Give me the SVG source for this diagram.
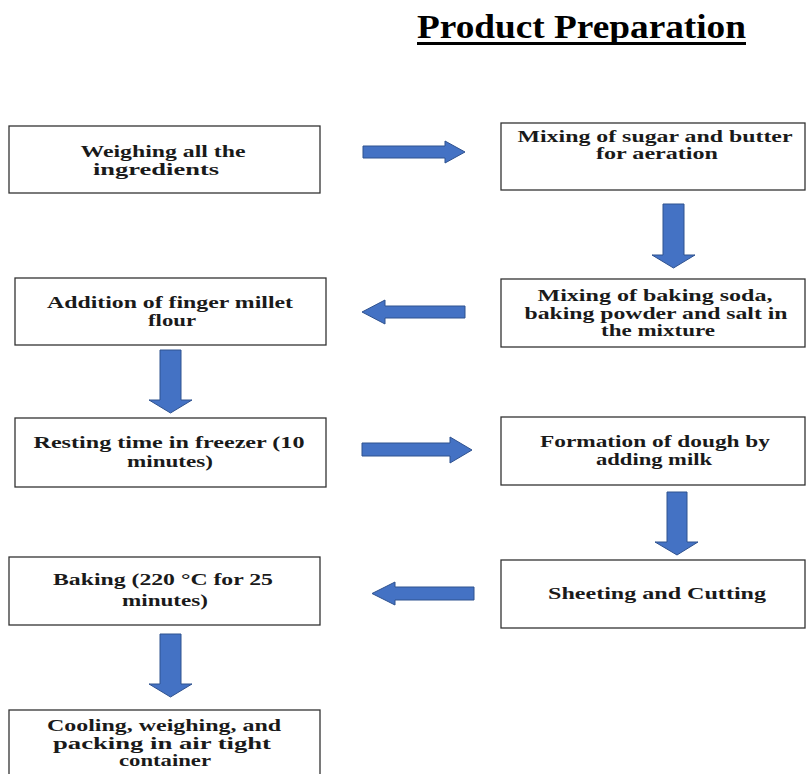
<svg xmlns="http://www.w3.org/2000/svg" width="806" height="774" viewBox="0 0 806 774">
<defs>
<style>
.box{fill:#ffffff;stroke:#333333;stroke-width:1.3}
.t{font-family:"Liberation Serif","Times New Roman",serif;font-weight:bold;font-size:16px;fill:#1a1a1a;text-anchor:middle}
.arr{fill:#4472C4;stroke:#2F528F;stroke-width:1}
.title{font-family:"Liberation Serif","Times New Roman",serif;font-weight:bold;font-size:34px;fill:#000000}
</style>
</defs>
<rect width="806" height="774" fill="#ffffff"/>
<g id="title">
<text class="title" x="417" y="38" textLength="329" lengthAdjust="spacingAndGlyphs">Product Preparation</text>
<rect x="417" y="42" width="329" height="3" fill="#000000"/>
</g>
<g id="connectors">
<path class="arr" d="M363,146 H445 V141 L465,152 L445,163 V158 H363 Z"/>
<path class="arr" d="M663,204 H684 V255 H695 L673.5,268 L652,255 H663 Z"/>
<path class="arr" d="M465,306 H385 V300 L362,312 L385,324 V318 H465 Z"/>
<path class="arr" d="M160,350 H181 V400 H192 L170.5,413 L149,400 H160 Z"/>
<path class="arr" d="M362,443 H450 V437 L472,450 L450,463 V456 H362 Z"/>
<path class="arr" d="M667,492 H687 V542 H698 L677,555 L655,542 H667 Z"/>
<path class="arr" d="M474,587 H395 V582 L372,593.5 L395,605 V600 H474 Z"/>
<path class="arr" d="M160,634 H181 V684 H192 L170.5,697 L149,684 H160 Z"/>
</g>
<g id="n1">
<rect class="box" x="9" y="126" width="311" height="67"/>
<text class="t" x="163" y="157" textLength="165" lengthAdjust="spacingAndGlyphs">Weighing all the</text>
<text class="t" x="156" y="175" textLength="126" lengthAdjust="spacingAndGlyphs">ingredients</text>
</g>
<g id="n2">
<rect class="box" x="501" y="123" width="304" height="67"/>
<text class="t" x="655" y="142" textLength="275" lengthAdjust="spacingAndGlyphs">Mixing of sugar and butter</text>
<text class="t" x="657" y="159" textLength="122" lengthAdjust="spacingAndGlyphs">for aeration</text>
</g>
<g id="n3">
<rect class="box" x="15" y="278" width="311" height="67"/>
<text class="t" x="170" y="308" textLength="246" lengthAdjust="spacingAndGlyphs">Addition of finger millet</text>
<text class="t" x="172" y="326" textLength="48" lengthAdjust="spacingAndGlyphs">flour</text>
</g>
<g id="n4">
<rect class="box" x="501" y="279" width="304" height="68"/>
<text class="t" x="655" y="301" textLength="235" lengthAdjust="spacingAndGlyphs">Mixing of baking soda,</text>
<text class="t" x="656" y="319" textLength="263" lengthAdjust="spacingAndGlyphs">baking powder and salt in</text>
<text class="t" x="658" y="336" textLength="114" lengthAdjust="spacingAndGlyphs">the mixture</text>
</g>
<g id="n5">
<rect class="box" x="15" y="418" width="311" height="69"/>
<text class="t" x="169" y="448" textLength="271" lengthAdjust="spacingAndGlyphs">Resting time in freezer (10</text>
<text class="t" x="170" y="467" textLength="86" lengthAdjust="spacingAndGlyphs">minutes)</text>
</g>
<g id="n6">
<rect class="box" x="501" y="417" width="304" height="68"/>
<text class="t" x="655" y="447" textLength="230" lengthAdjust="spacingAndGlyphs">Formation of dough by</text>
<text class="t" x="654" y="465" textLength="116" lengthAdjust="spacingAndGlyphs">adding milk</text>
</g>
<g id="n7">
<rect class="box" x="501" y="560" width="304" height="68"/>
<text class="t" x="657" y="599" textLength="218" lengthAdjust="spacingAndGlyphs">Sheeting and Cutting</text>
</g>
<g id="n8">
<rect class="box" x="9" y="557" width="311" height="68"/>
<text class="t" x="163" y="585" textLength="220" lengthAdjust="spacingAndGlyphs">Baking (220 °C for 25</text>
<text class="t" x="165" y="606" textLength="86" lengthAdjust="spacingAndGlyphs">minutes)</text>
</g>
<g id="n9">
<rect class="box" x="9" y="710" width="311" height="70"/>
<text class="t" x="164" y="731" textLength="234" lengthAdjust="spacingAndGlyphs">Cooling, weighing, and</text>
<text class="t" x="162" y="749" textLength="218" lengthAdjust="spacingAndGlyphs">packing in air tight</text>
<text class="t" x="165" y="766" textLength="92" lengthAdjust="spacingAndGlyphs">container</text>
</g>
</svg>
